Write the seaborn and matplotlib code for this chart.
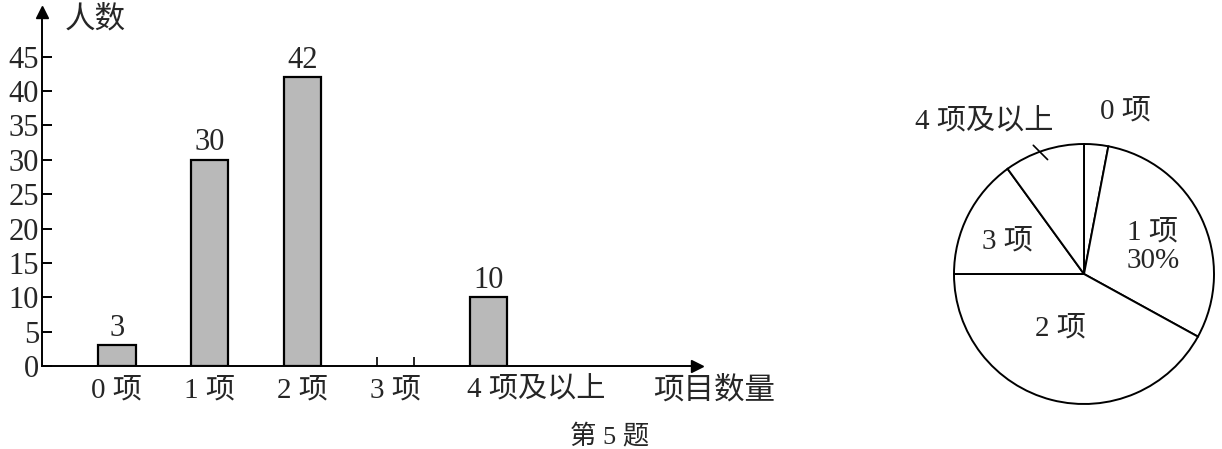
import matplotlib
matplotlib.use("Agg")
import matplotlib.pyplot as plt
import matplotlib.transforms as mtransforms
import seaborn as sns
import pandas as pd

# data
categories = ["0 项", "1 项", "2 项", "3 项", "4 项及以上"]
counts = [3, 30, 42, None, 10]          # 3项 bar is left blank in the figure
pie_labels = ["0 项", "1 项", "2 项", "3 项", "4 项及以上"]
pie_percent = [3, 30, 42, 15, 10]
y_ticks = [0, 5, 10, 15, 20, 25, 30, 35, 40, 45]

sns.set_theme(style="white")
plt.rcParams["font.family"] = ["Liberation Serif", "Noto Sans CJK SC", "DejaVu Sans"]
plt.rcParams["axes.unicode_minus"] = False

W, H = 1222, 449
fig = plt.figure(figsize=(W / 100, H / 100), dpi=100)

# ---- bar chart ----
ax = fig.add_axes([42 / W, 83 / H, 655 / W, 354 / H])
df = pd.DataFrame({"项目": categories, "人数": [c if c is not None else 0 for c in counts]})
sns.barplot(data=df, x="项目", y="人数", ax=ax, color="#b9b9b9", saturation=1,
            width=0.4, edgecolor="black", linewidth=1.6)
# drop the empty bar for 3项
for i, p in enumerate(ax.patches):
    if counts[i] is None:
        p.set_visible(False)

ax.set_xlim(-0.806, 6.24)
ax.set_ylim(0, 51.5)
ax.set_yticks(y_ticks)
ax.set_yticklabels([str(t) for t in y_ticks], fontsize=22)
ax.tick_params(axis="y", direction="in", length=7, width=1.4, pad=2, left=True, color="black")
ax.set_xticks(range(len(categories)))
ax.set_xticklabels(categories, fontsize=21)
ax.tick_params(axis="x", length=0, pad=8)
last = ax.get_xticklabels()[-1]
last.set_transform(last.get_transform() + mtransforms.ScaledTranslation(0.47, 0, fig.dpi_scale_trans))
ax.set_xlabel("")
ax.set_ylabel("")

for s in ["top", "right"]:
    ax.spines[s].set_visible(False)
for s in ["left", "bottom"]:
    ax.spines[s].set_color("black")
    ax.spines[s].set_linewidth(1.4)
# arrow heads
ax.plot(1, 0, ">", color="black", markersize=8, transform=ax.transAxes, clip_on=False)
ax.plot(0, 1, "^", color="black", markersize=8, transform=ax.transAxes, clip_on=False)

# value labels
for i, c in enumerate(counts):
    if c is not None:
        ax.text(i, c + 0.4, str(c), ha="center", va="bottom", fontsize=22)

# little marks for the blank 3项 bar
blank = categories.index("3 项")
ax.vlines([blank - 0.2, blank + 0.2], 0, 1.3, color="black", linewidth=1.2)

ax.text(0.035, 0.977, "人数", transform=ax.transAxes, fontsize=22, ha="left", va="center")
fig.text(714 / W, 1 - 391 / H, "项目数量", fontsize=22, ha="center", va="center")
fig.text(610 / W, 1 - 436 / H, "第 5 题", fontsize=19, ha="center", va="center")

# ---- pie chart ----
cx, cy, r = 1084, 274, 130
ax2 = fig.add_axes([(cx - r) / W, (H - cy - r) / H, 2 * r / W, 2 * r / H])
ax2.pie(pie_percent, startangle=90, counterclock=False, colors=["white"] * 5,
        wedgeprops=dict(edgecolor="black", linewidth=1.4))
ax2.set_xlim(-1, 1)
ax2.set_ylim(-1, 1)
ax2.set_aspect("equal")
ax2.axis("off")

fs = 21
ax2.text(0.32, 1.25, pie_labels[0], fontsize=fs, ha="center", va="center")
ax2.text(0.53, 0.21, f"{pie_labels[1]}\n{pie_percent[1]}%", fontsize=fs,
         ha="center", va="center", linespacing=1.1)
ax2.text(-0.18, -0.42, pie_labels[2], fontsize=fs, ha="center", va="center")
ax2.text(-0.59, 0.25, pie_labels[3], fontsize=fs, ha="center", va="center")
ax2.text(-0.77, 1.17, pie_labels[4], fontsize=fs, ha="center", va="center")
ax2.plot([-0.39, -0.28], [0.99, 0.88], color="black", linewidth=1.2, clip_on=False)

fig.savefig("out.png", dpi=100)
